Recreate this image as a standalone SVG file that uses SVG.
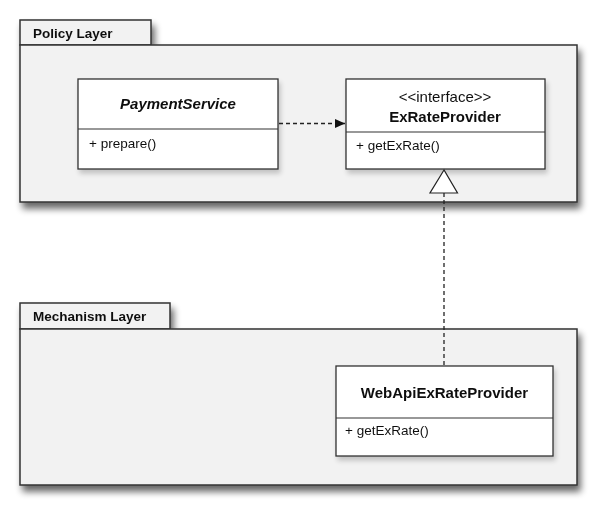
<svg xmlns="http://www.w3.org/2000/svg" width="592" height="507" viewBox="0 0 592 507">
<defs>
<filter id="pkgShadow" x="-10%" y="-10%" width="125%" height="130%">
<feGaussianBlur in="SourceAlpha" stdDeviation="3.5"/>
<feOffset dx="3" dy="6" result="b"/>
<feComponentTransfer><feFuncA type="linear" slope="0.6"/></feComponentTransfer>
<feMerge><feMergeNode/><feMergeNode in="SourceGraphic"/></feMerge>
</filter>
<filter id="clsShadow" x="-10%" y="-10%" width="125%" height="130%">
<feGaussianBlur in="SourceAlpha" stdDeviation="2.5"/>
<feOffset dx="2" dy="4" result="b"/>
<feComponentTransfer><feFuncA type="linear" slope="0.2"/></feComponentTransfer>
<feMerge><feMergeNode/><feMergeNode in="SourceGraphic"/></feMerge>
</filter>
<marker id="arrow" markerWidth="11" markerHeight="11" refX="10" refY="5.5" orient="auto" markerUnits="userSpaceOnUse">
<path d="M0,1 L10,5.5 L0,10 Z" fill="#111"/>
</marker>
</defs>
<style>
.pkg{fill:#f2f2f2;stroke:#333;stroke-width:1.5}
.tab{fill:#f2f2f2;stroke:#333;stroke-width:1.5}
.cls{fill:#fff;stroke:#333;stroke-width:1.3}
.div{stroke:#333;stroke-width:1.2}
.pl{font-family:"Liberation Sans",Arial,sans-serif;font-weight:bold;font-size:13.5px;fill:#111}
.title{font-family:"Liberation Sans",Arial,sans-serif;font-weight:bold;font-size:15px;fill:#111;text-anchor:middle}
.it{font-style:italic}
.st{font-family:"Liberation Sans",Arial,sans-serif;font-size:15px;fill:#111;text-anchor:middle}
.mem{font-family:"Liberation Sans",Arial,sans-serif;font-size:13.5px;fill:#111}
.dash{fill:none;stroke:#222;stroke-width:1.3;stroke-dasharray:4,3}
</style>

<g id="policy-layer" filter="url(#pkgShadow)">
<rect class="tab" x="20" y="20" width="131" height="25"/>
<rect class="pkg" x="20" y="45" width="557" height="157"/>
<text class="pl" x="33" y="38">Policy Layer</text>
</g>

<g id="mechanism-layer" filter="url(#pkgShadow)">
<rect class="tab" x="20" y="303" width="150" height="26"/>
<rect class="pkg" x="20" y="329" width="557" height="156"/>
<text class="pl" x="33" y="321">Mechanism Layer</text>
</g>

<g id="PaymentService" filter="url(#clsShadow)">
<rect class="cls" x="78" y="79" width="200" height="90"/>
<line class="div" x1="78" y1="129" x2="278" y2="129"/>
<text class="title it" x="178" y="109">PaymentService</text>
<text class="mem" x="89" y="148">+ prepare()</text>
</g>

<g id="ExRateProvider" filter="url(#clsShadow)">
<rect class="cls" x="346" y="79" width="199" height="90"/>
<line class="div" x1="346" y1="132" x2="545" y2="132"/>
<text class="st" x="445" y="102">&lt;&lt;interface&gt;&gt;</text>
<text class="title" x="445" y="122">ExRateProvider</text>
<text class="mem" x="356" y="150">+ getExRate()</text>
</g>

<g id="WebApiExRateProvider" filter="url(#clsShadow)">
<rect class="cls" x="336" y="366" width="217" height="90"/>
<line class="div" x1="336" y1="418" x2="553" y2="418"/>
<text class="title" x="444.5" y="398">WebApiExRateProvider</text>
<text class="mem" x="345" y="435">+ getExRate()</text>
</g>

<g id="connectors">
<line class="dash" x1="279" y1="123.5" x2="345" y2="123.5" marker-end="url(#arrow)"/>
<line class="dash" x1="444" y1="193" x2="444" y2="365"/>
<polygon points="444,170 430,193 457.5,193" fill="#fff" stroke="#222" stroke-width="1.2"/>
</g>
</svg>
